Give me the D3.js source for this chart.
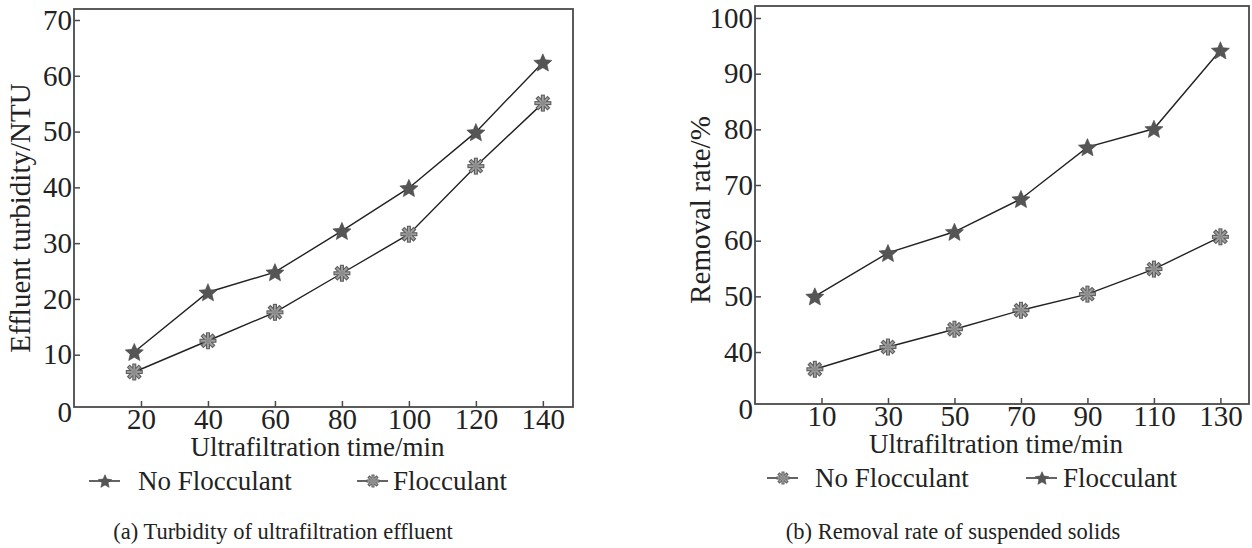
<!DOCTYPE html>
<html><head><meta charset="utf-8">
<script src="https://cdn.jsdelivr.net/npm/d3@7"></script>
<style>html,body{margin:0;padding:0;background:#fff}svg{display:block}text{font-family:"Liberation Serif","Times New Roman",serif;fill:#222}</style>
</head><body><svg id="c" width="1252" height="548"></svg>
<script>
// ---- Panel (a) data ----
const timeA = [18, 40, 60, 80, 100, 120, 140];
const noFlocA = [10.5, 21.2, 24.8, 32.2, 39.9, 49.9, 62.4];
const flocA = [6.9, 12.5, 17.6, 24.6, 31.6, 43.8, 55.1];
const xTicksA = [20, 40, 60, 80, 100, 120, 140];
const yTicksA = [10, 20, 30, 40, 50, 60, 70];
// ---- Panel (b) data ----
const timeB = [8, 30, 50, 70, 90, 110, 130];
const noFlocB = [36.9, 40.9, 44.1, 47.5, 50.4, 54.9, 60.7];
const flocB = [50.0, 57.8, 61.6, 67.5, 76.8, 80.1, 94.2];
const xTicksB = [10, 30, 50, 70, 90, 110, 130];
const yTicksB = [40, 50, 60, 70, 80, 90, 100];

const svg = d3.select("#c");
const LINE = "#222", FRAME = "#4a4a4a";

function starPath(R) {
  const r = R * 0.46, pts = [];
  for (let i = 0; i < 10; i++) {
    const a = -Math.PI / 2 + i * Math.PI / 5, rr = i % 2 ? r : R;
    pts.push([rr * Math.cos(a), rr * Math.sin(a)]);
  }
  return "M" + pts.map(p => p[0].toFixed(2) + "," + p[1].toFixed(2)).join("L") + "Z";
}
function star(g, x, y, R) {
  g.append("path").attr("d", starPath(R))
    .attr("transform", `translate(${x},${y + R * 0.1})`)
    .attr("fill", "#555").attr("stroke", "#4a4a4a").attr("stroke-width", 0.6);
}
function asterisk(g, x, y, r) {
  const a = g.append("g").attr("transform", `translate(${x},${y})`);
  const angs = [0, 45, 90, 135];
  angs.forEach(t => {
    const c = Math.cos(t * Math.PI / 180) * r, s = Math.sin(t * Math.PI / 180) * r;
    a.append("line").attr("x1", -c).attr("y1", -s).attr("x2", c).attr("y2", s)
      .attr("stroke", "#5e5e5e").attr("stroke-width", r * 0.48).attr("stroke-linecap", "butt");
  });
  a.append("circle").attr("r", r * 0.5).attr("fill", "#5e5e5e");
  angs.forEach(t => {
    const c = Math.cos(t * Math.PI / 180) * (r - 1.1), s = Math.sin(t * Math.PI / 180) * (r - 1.1);
    a.append("line").attr("x1", -c).attr("y1", -s).attr("x2", c).attr("y2", s)
      .attr("stroke", "#a0a0a0").attr("stroke-width", r * 0.22);
  });
  a.append("circle").attr("r", r * 0.3).attr("fill", "#8c8c8c");
}

function panel(o) {
  const g = svg.append("g");
  const x = d3.scaleLinear().domain(o.xDom).range([o.left, o.right]);
  const y = d3.scaleLinear().domain(o.yDom).range(o.yRange);
  g.append("rect").attr("x", o.left).attr("y", o.top).attr("width", o.right - o.left)
    .attr("height", o.bottom - o.top).attr("fill", "none").attr("stroke", FRAME).attr("stroke-width", 1.8);
  const ya = g.append("g").attr("transform", `translate(${o.left},0)`)
    .call(d3.axisLeft(y).tickValues(o.yTicks).tickSize(-6).tickPadding(2).tickFormat(d3.format("d")));
  ya.select(".domain").remove();
  ya.selectAll("line").attr("stroke", FRAME).attr("stroke-width", 1.5);
  ya.selectAll("text").attr("font-size", 29).attr("font-family", "Liberation Serif").attr("fill", "#222");
  const xa = g.append("g").attr("transform", `translate(0,${o.bottom})`)
    .call(d3.axisBottom(x).tickValues(o.xTicks).tickSize(-6).tickPadding(1).tickFormat(d3.format("d")));
  xa.select(".domain").remove();
  xa.selectAll("line").attr("stroke", FRAME).attr("stroke-width", 1.5);
  xa.selectAll("text").attr("font-size", 29).attr("font-family", "Liberation Serif").attr("fill", "#222");
  g.append("text").attr("x", o.left - 2).attr("y", o.bottom + 6).attr("dy", "0.32em")
    .attr("text-anchor", "end").attr("font-size", 29).text("0");
  g.append("text").attr("x", (o.left + o.right) / 2 - 6).attr("y", o.bottom + 49)
    .attr("text-anchor", "middle").attr("font-size", 27).text("Ultrafiltration time/min");
  g.append("text").attr("transform", `translate(${o.ytX},${o.ytY}) rotate(-90)`)
    .attr("text-anchor", "middle").attr("font-size", 29).text(o.yTitle);
  const line = d3.line().x(d => x(d[0])).y(d => y(d[1]));
  o.series.forEach(s => {
    const pts = o.time.map((t, i) => [t, s.values[i]]);
    g.append("path").attr("d", line(pts)).attr("fill", "none").attr("stroke", LINE).attr("stroke-width", 1.4);
    pts.forEach(p => s.marker === "star" ? star(g, x(p[0]), y(p[1]), 9.5) : asterisk(g, x(p[0]), y(p[1]), 8.5));
  });
  o.series.forEach(s => {
    const lx = s.legendX;
    g.append("line").attr("x1", lx).attr("x2", lx + 31).attr("y1", o.legendY).attr("y2", o.legendY)
      .attr("stroke", LINE).attr("stroke-width", 1.4);
    if (s.marker === "star") star(g, lx + 16, o.legendY, 7); else asterisk(g, lx + 16, o.legendY, 6.5);
    g.append("text").attr("x", lx + s.textOff).attr("y", o.legendY).attr("dy", "0.33em")
      .attr("font-size", 27).text(s.name);
  });
  g.append("text").attr("x", o.capX).attr("y", 532).attr("dy", "0.33em").attr("text-anchor", "middle")
    .attr("font-size", 22.5).text(o.caption);
}

panel({
  left: 74, right: 573, top: 9, bottom: 407,
  xDom: [0, 149], yDom: [0, 70], yRange: [410.5, 20],
  xTicks: xTicksA, yTicks: yTicksA, time: timeA,
  yTitle: "Effluent turbidity/NTU", ytX: 30, ytY: 218,
  legendY: 481,
  series: [
    {name: "No Flocculant", values: noFlocA, marker: "star", legendX: 89, textOff: 49},
    {name: "Flocculant", values: flocA, marker: "asterisk", legendX: 357, textOff: 36}
  ],
  capX: 283, caption: "(a) Turbidity of ultrafiltration effluent"
});
panel({
  left: 755, right: 1249, top: 6, bottom: 404,
  xDom: [-10, 138.6], yDom: [30, 100], yRange: [407.7, 18],
  xTicks: xTicksB, yTicks: yTicksB, time: timeB,
  yTitle: "Removal rate/%", ytX: 710, ytY: 210,
  legendY: 478,
  series: [
    {name: "No Flocculant", values: noFlocB, marker: "asterisk", legendX: 767, textOff: 48},
    {name: "Flocculant", values: flocB, marker: "star", legendX: 1026, textOff: 37}
  ],
  capX: 953, caption: "(b) Removal rate of suspended solids"
});
</script></body></html>
